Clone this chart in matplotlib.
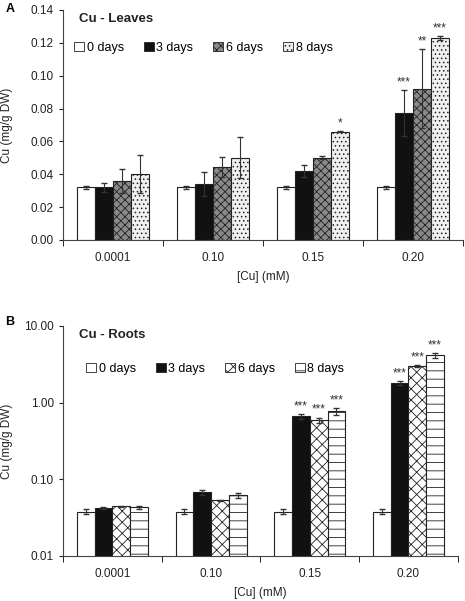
import matplotlib
matplotlib.use("Agg")
import matplotlib.pyplot as plt
from matplotlib.patches import Patch
import numpy

plt.rcParams['font.family'] = ['Liberation Sans', 'DejaVu Sans']
plt.rcParams['hatch.linewidth'] = 0.6

# Datos.
concentraciones = ["0.0001", "0.10", "0.15", "0.20"]
dias = ["0 days", "3 days", "6 days", "8 days"]

hojas = {
    "0 days": [0.032, 0.032, 0.032, 0.032],
    "3 days": [0.032, 0.034, 0.042, 0.077],
    "6 days": [0.036, 0.0445, 0.050, 0.092],
    "8 days": [0.040, 0.050, 0.066, 0.123],
}
hojas_err = {
    "0 days": [0.001, 0.001, 0.001, 0.001],
    "3 days": [0.0025, 0.0075, 0.0035, 0.014],
    "6 days": [0.0075, 0.006, 0.001, 0.024],
    "8 days": [0.0115, 0.0125, 0.0005, 0.001],
}
hojas_sig = {
    "0 days": ["", "", "", ""],
    "3 days": ["", "", "", "***"],
    "6 days": ["", "", "", "**"],
    "8 days": ["", "", "*", "***"],
}

raices = {
    "0 days": [0.038, 0.038, 0.038, 0.038],
    "3 days": [0.042, 0.068, 0.67, 1.82],
    "6 days": [0.0445, 0.053, 0.59, 2.98],
    "8 days": [0.0435, 0.062, 0.77, 4.14],
}
raices_err = {
    "0 days": [0.003, 0.003, 0.003, 0.003],
    "3 days": [0.001, 0.005, 0.05, 0.1],
    "6 days": [0.001, 0.001, 0.05, 0.1],
    "8 days": [0.002, 0.005, 0.07, 0.3],
}
raices_sig = {
    "0 days": ["", "", "", ""],
    "3 days": ["", "", "***", "***"],
    "6 days": ["", "", "***", "***"],
    "8 days": ["", "", "***", "***"],
}

estilo_hojas = {
    "0 days": dict(facecolor="white", hatch=None),
    "3 days": dict(facecolor="#111111", hatch=None),
    "6 days": dict(facecolor="#8a8a8a", hatch="xxxx"),
    "8 days": dict(facecolor="#f0f0f0", hatch="...."),
}
estilo_raices = {
    "0 days": dict(facecolor="white", hatch=None),
    "3 days": dict(facecolor="#111111", hatch=None),
    "6 days": dict(facecolor="white", hatch="xxx"),
    "8 days": dict(facecolor="white", hatch="--"),
}


def panel(ax, datos, errores, sig, estilos, titulo, log=False):
    x = numpy.arange(len(concentraciones))
    w = 0.18
    for i, d in enumerate(dias):
        pos = x + (i - 1.5) * w
        e = estilos[d]
        ax.bar(pos, datos[d], w, color=e["facecolor"], hatch=e["hatch"],
               edgecolor="#222222", linewidth=0.8, zorder=2)
        ax.errorbar(pos, datos[d], yerr=errores[d], fmt="none",
                    ecolor="#333333", elinewidth=0.8, capsize=2.5, zorder=3)
        for p, v, er, s in zip(pos, datos[d], errores[d], sig[d]):
            if s:
                ytxt = (v + er) * 1.05 if log else v + er + 0.001
                ax.text(p, ytxt, s, ha="center", va="bottom", fontsize=8.5,
                        color="#333333")

    ax.set_xlim(-0.5, len(concentraciones) - 0.5)
    ax.set_xticks(x)
    ax.set_xticklabels(concentraciones)
    ax.set_xticks(numpy.arange(len(concentraciones) + 1) - 0.5, minor=True)
    ax.tick_params(axis="x", which="major", length=0, pad=9)
    ax.tick_params(axis="x", which="minor", length=4, direction="out")
    ax.tick_params(axis="y", length=3, direction="out")
    ax.tick_params(labelsize=8.5, colors="#222222")
    for s in ["top", "right"]:
        ax.spines[s].set_visible(False)
    ax.spines["left"].set_color("#444444")
    ax.spines["bottom"].set_color("#444444")
    ax.set_xlabel("[Cu] (mM)", fontsize=8.5, labelpad=5, color="#222222")
    ax.set_ylabel("Cu (mg/g DW)", fontsize=8.5, color="#222222")

    ax.text(0.04, 0.985, titulo, transform=ax.transAxes, fontsize=9.5,
            fontweight="bold", va="top", color="#222222")
    handles = [Patch(facecolor=estilos[d]["facecolor"],
                     hatch=estilos[d]["hatch"], edgecolor="#222222",
                     linewidth=0.6) for d in dias]
    return handles


def plot_cobre():
    fig = plt.figure(figsize=(4.65, 6.01), dpi=100)

    ax1 = fig.add_axes([0.1355, 0.6007, 0.860, 0.3827])
    h = panel(ax1, hojas, hojas_err, hojas_sig, estilo_hojas, "Cu - Leaves")
    ax1.legend(h, dias, ncol=4, frameon=False, fontsize=9,
               loc="upper left", bbox_to_anchor=(0.0, 0.91),
               handlelength=0.8, handleheight=0.8, handletextpad=0.2,
               columnspacing=1.6)
    ax1.set_ylim(0, 0.14)
    ax1.set_yticks(numpy.arange(0, 0.141, 0.02))
    ax1.set_yticklabels(["%.2f" % v for v in numpy.arange(0, 0.141, 0.02)])
    ax1.yaxis.set_label_coords(-0.125, 0.5)

    ax2 = fig.add_axes([0.1355, 0.0749, 0.849, 0.3827])
    h = panel(ax2, raices, raices_err, raices_sig, estilo_raices, "Cu - Roots",
              log=True)
    ax2.legend(h, dias, ncol=4, frameon=False, fontsize=9,
               loc="upper left", bbox_to_anchor=(0.03, 0.89),
               handlelength=0.8, handleheight=0.8, handletextpad=0.2,
               columnspacing=1.6)
    ax2.set_yscale("log")
    ax2.set_ylim(0.01, 10)
    ax2.set_yticks([0.01, 0.1, 1, 10])
    ax2.set_yticklabels(["0.01", "0.10", "1.00", "10.00"])
    ax2.yaxis.set_minor_locator(matplotlib.ticker.NullLocator())
    ax2.yaxis.set_label_coords(-0.127, 0.5)

    fig.text(0.012, 0.995, "A", fontsize=9, fontweight="bold", va="top")
    fig.text(0.012, 0.475, "B", fontsize=9, fontweight="bold", va="top")

    fig.savefig("out.png", dpi=100)


if __name__ == "__main__":
    plot_cobre()
